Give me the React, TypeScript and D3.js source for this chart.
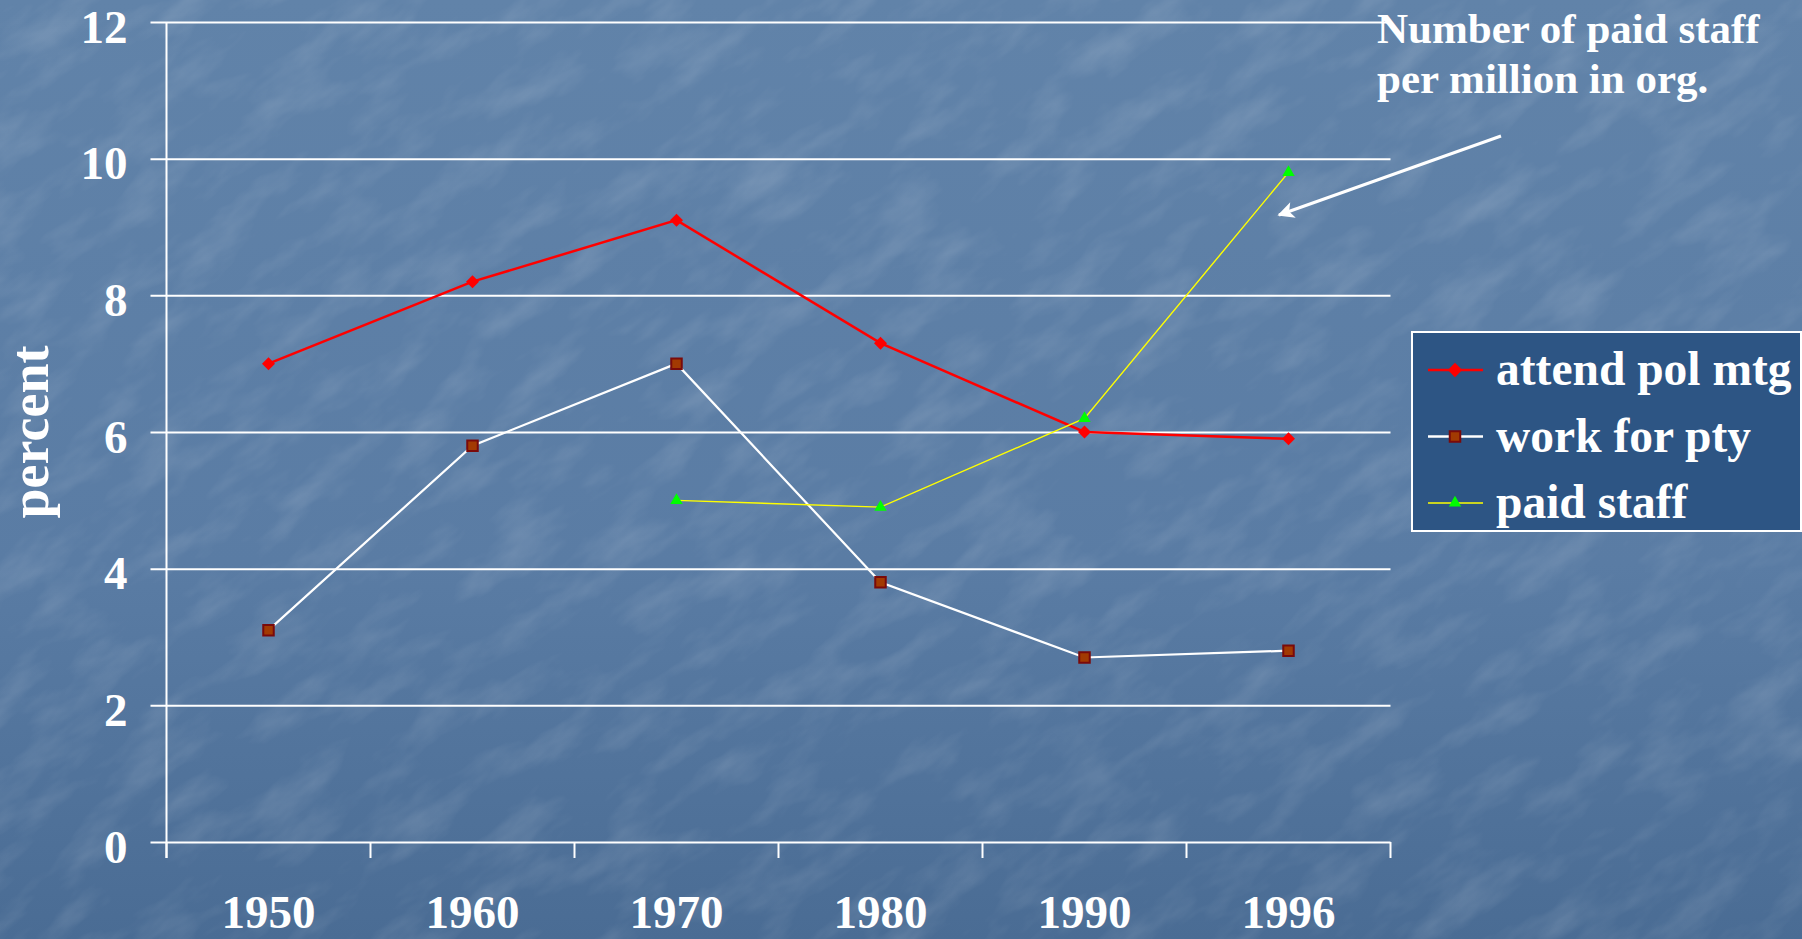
import { useEffect, useRef } from 'react'
import * as d3 from 'd3'

const years = ['1950', '1960', '1970', '1980', '1990', '1996']
const attendPolMtg = [7.0, 8.2, 9.1, 7.3, 6.0, 5.9]
const workForPty = [3.1, 5.8, 7.0, 3.8, 2.7, 2.8]
const paidStaff: (number | null)[] = [null, null, 5.0, 4.9, 6.2, 9.8]
const yTicks = [0, 2, 4, 6, 8, 10, 12]
const seriesNames = ['attend pol mtg', 'work for pty', 'paid staff']

const W = 1802
const H = 939
const FONT = '"Liberation Serif", "Times New Roman", serif'

const App = () => {
  const svgRef = useRef<SVGSVGElement | null>(null)

  useEffect(() => {
    const left = 166.5
    const right = 1390.5
    const top = 22
    const bottom = 842

    const x = d3.scaleBand<string>().domain(years).range([left, right])
    const y = d3.scaleLinear().domain([0, 12]).range([bottom, top])
    const cx = (i: number) => (x(years[i]) as number) + x.bandwidth() / 2

    const svg = d3.select(svgRef.current)
    svg.selectAll('*').remove()

    // background
    const defs = svg.append('defs')
    const grad = defs
      .append('linearGradient')
      .attr('id', 'bg')
      .attr('x1', 0)
      .attr('y1', 0)
      .attr('x2', 0)
      .attr('y2', 1)
    grad.append('stop').attr('offset', '0%').attr('stop-color', '#6183a9')
    grad.append('stop').attr('offset', '60%').attr('stop-color', '#5a7ca4')
    grad.append('stop').attr('offset', '100%').attr('stop-color', '#4a6c94')

    const filt = defs
      .append('filter')
      .attr('id', 'tex')
      .attr('x', 0)
      .attr('y', 0)
      .attr('width', 1)
      .attr('height', 1)
    filt
      .append('feTurbulence')
      .attr('type', 'fractalNoise')
      .attr('baseFrequency', '0.012 0.03')
      .attr('numOctaves', 4)
      .attr('seed', 11)
    filt
      .append('feColorMatrix')
      .attr('type', 'matrix')
      .attr('values', '0 0 0 0 1  0 0 0 0 1  0 0 0 0 1  0.8 0 0 0 -0.36')

    const arrowHead = defs
      .append('marker')
      .attr('id', 'arrow')
      .attr('viewBox', '0 0 10 10')
      .attr('refX', 9)
      .attr('refY', 5)
      .attr('markerWidth', 6.5)
      .attr('markerHeight', 5.5)
      .attr('markerUnits', 'strokeWidth')
      .attr('orient', 'auto')
    arrowHead.append('path').attr('d', 'M0,0 L10,5 L0,10 L2.5,5 Z').attr('fill', '#fff')

    svg.append('rect').attr('width', W).attr('height', H).attr('fill', 'url(#bg)')
    svg
      .append('rect')
      .attr('x', -600)
      .attr('y', -600)
      .attr('width', W + 1200)
      .attr('height', H + 1200)
      .attr('transform', `rotate(-35 ${W / 2} ${H / 2})`)
      .attr('filter', 'url(#tex)')
      .attr('opacity', 0.35)

    // y axis with gridlines
    const yAxis = d3
      .axisLeft(y)
      .tickValues(yTicks)
      .tickSize(16)
      .tickFormat(d3.format('d'))
    svg
      .append('g')
      .attr('transform', `translate(${left},0)`)
      .call(yAxis)
      .call((g) => g.select('.domain').remove())
      .call((g) =>
        g
          .selectAll('.tick line')
          .attr('x1', right - left)
          .attr('stroke', '#fff')
          .attr('stroke-width', 2)
      )
      .call((g) =>
        g
          .selectAll('.tick text')
          .attr('x', -39)
          .attr('dy', '0.43em')
          .attr('fill', '#fff')
          .style('font-family', FONT)
          .style('font-weight', 'bold')
          .style('font-size', '47px')
      )

    // vertical axis line
    svg
      .append('line')
      .attr('x1', left)
      .attr('x2', left)
      .attr('y1', top)
      .attr('y2', bottom + 16)
      .attr('stroke', '#fff')
      .attr('stroke-width', 2)

    // x axis: ticks on band edges, labels at centres
    const edges = [...years.map((d) => x(d) as number), right]
    svg
      .append('g')
      .selectAll('line')
      .data(edges)
      .join('line')
      .attr('x1', (d) => d)
      .attr('x2', (d) => d)
      .attr('y1', bottom)
      .attr('y2', bottom + 16)
      .attr('stroke', '#fff')
      .attr('stroke-width', 2)

    const xAxis = d3.axisBottom(x).tickSize(0)
    svg
      .append('g')
      .attr('transform', `translate(0,${bottom})`)
      .call(xAxis)
      .call((g) => g.select('.domain').remove())
      .call((g) =>
        g
          .selectAll('.tick text')
          .attr('y', 86)
          .attr('dy', 0)
          .attr('fill', '#fff')
          .style('font-family', FONT)
          .style('font-weight', 'bold')
          .style('font-size', '47px')
      )

    // y title
    svg
      .append('text')
      .attr('transform', 'translate(48,432) rotate(-90)')
      .attr('text-anchor', 'middle')
      .attr('fill', '#fff')
      .style('font-family', FONT)
      .style('font-weight', 'bold')
      .style('font-size', '54px')
      .text('percent')

    // series
    const line = d3
      .line<number | null>()
      .defined((d) => d !== null)
      .x((d, i) => cx(i))
      .y((d) => y(d as number))

    const diamond = d3.symbol(d3.symbolSquare, 85)
    const square = d3.symbol(d3.symbolSquare, 110)
    const triangle = d3.symbol(d3.symbolTriangle, 66)

    const series = [
      { data: attendPolMtg as (number | null)[], stroke: '#ff0000', sw: 2.5 },
      { data: workForPty as (number | null)[], stroke: '#ffffff', sw: 2.2 },
      { data: paidStaff, stroke: '#ffff00', sw: 1.4 },
    ]
    series.forEach((s) => {
      svg
        .append('path')
        .datum(s.data)
        .attr('d', line)
        .attr('fill', 'none')
        .attr('stroke', s.stroke)
        .attr('stroke-width', s.sw)
    })

    const drawMarker = (g: d3.Selection<any, any, any, any>, k: number, px: number, py: number, scale = 1) => {
      if (k === 0) {
        g.append('path')
          .attr('d', diamond())
          .attr('transform', `translate(${px},${py}) rotate(45) scale(${scale})`)
          .attr('fill', '#ff0000')
      } else if (k === 1) {
        g.append('path')
          .attr('d', square())
          .attr('transform', `translate(${px},${py}) scale(${scale})`)
          .attr('fill', '#a23a02')
          .attr('stroke', '#7a0a0a')
          .attr('stroke-width', 2)
      } else {
        g.append('path')
          .attr('d', triangle())
          .attr('transform', `translate(${px},${py}) scale(${scale})`)
          .attr('fill', '#00ff00')
      }
    }

    const marks = svg.append('g')
    series.forEach((s, k) => {
      s.data.forEach((v, i) => {
        if (v === null) return
        drawMarker(marks, k, cx(i), y(v))
      })
    })

    // legend
    const lg = svg.append('g').attr('transform', 'translate(1412,332)')
    lg.append('rect')
      .attr('width', 389)
      .attr('height', 199)
      .attr('fill', '#2d5584')
      .attr('stroke', '#fff')
      .attr('stroke-width', 2)
    seriesNames.forEach((name, k) => {
      const ry = 38 + k * 66.5
      lg.append('line')
        .attr('x1', 16)
        .attr('x2', 71)
        .attr('y1', ry)
        .attr('y2', ry)
        .attr('stroke', series[k].stroke)
        .attr('stroke-width', k === 2 ? 1.6 : 2.5)
      drawMarker(lg, k, 43, ry, k === 0 ? 1.1 : 1)
      lg.append('text')
        .attr('x', 84)
        .attr('y', ry + 15)
        .attr('fill', '#fff')
        .style('font-family', FONT)
        .style('font-weight', 'bold')
        .style('font-size', '47.5px')
        .text(name)
    })

    // annotation
    const note = svg
      .append('text')
      .attr('fill', '#fff')
      .style('font-family', FONT)
      .style('font-weight', 'bold')
      .style('font-size', '43px')
    note.append('tspan').attr('x', 1377).attr('y', 43).text('Number of paid staff')
    note.append('tspan').attr('x', 1377).attr('y', 93).text('per million in org.')

    svg
      .append('line')
      .attr('x1', 1501)
      .attr('y1', 136)
      .attr('x2', 1279)
      .attr('y2', 215)
      .attr('stroke', '#fff')
      .attr('stroke-width', 3)
      .attr('marker-end', 'url(#arrow)')
  }, [])

  return (
    <svg
      ref={svgRef}
      width={W}
      height={H}
      style={{ position: 'fixed', top: 0, left: 0, display: 'block' }}
    />
  )
}

export default App
